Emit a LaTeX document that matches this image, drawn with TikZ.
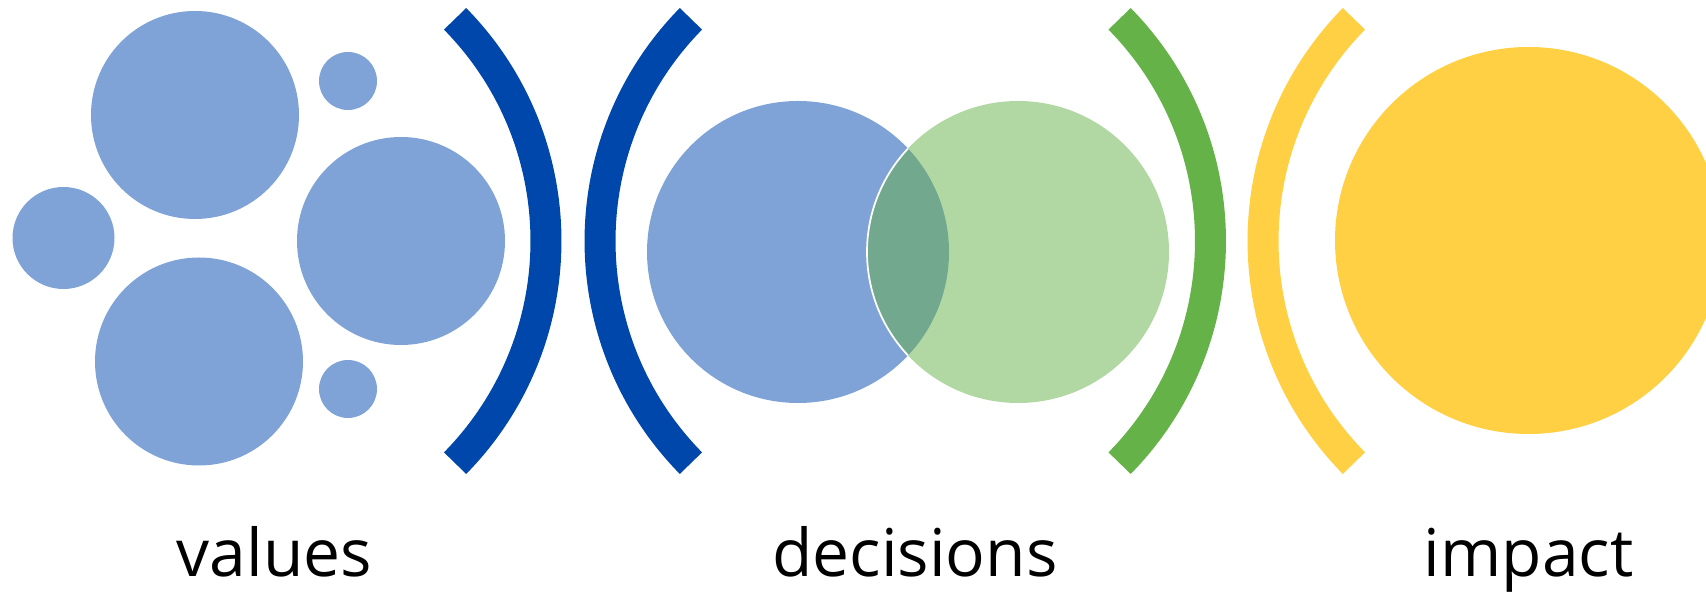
\documentclass[tikz,border=0pt]{standalone}
\usepackage{fontspec}
\setmainfont{Open Sans}
\usetikzlibrary{calc}
\definecolor{valueblue}{RGB}{127,163,214}
\definecolor{bracketblue}{RGB}{0,71,171}
\definecolor{bracketgreen}{RGB}{101,178,72}
\definecolor{decisiongreen}{RGB}{177,216,163}
\definecolor{overlapgreen}{RGB}{114,169,142}
\definecolor{impactyellow}{RGB}{255,208,68}
\def\bowarc[#1](#2)(#3){\draw[#1] ($(#2)+({#3-44.5}:317)$) arc ({#3-44.5}:{#3+44.5}:317);}
\tikzset{stagename/.style={anchor=base, inner sep=0pt, font=\fontsize{37.5}{44}\selectfont}}

\begin{document}
\begin{tikzpicture}[x=0.02cm, y=0.02cm]
		%%%%% START %%%%%
		\useasboundingbox (0,0) rectangle (1706,594);
		\clip (0,0) rectangle (1706,594);
		
		% values
		\fill[valueblue] (195,479) circle (104);
		\fill[valueblue] (348,513) circle (29);
		\fill[valueblue] (63.5,356) circle (51);
		\fill[valueblue] (401,353) circle (104);
		\fill[valueblue] (199,232.5) circle (104);
		\fill[valueblue] (348,205) circle (29);
		
		% brackets
		\bowarc[line width=0.62cm, color=bracketblue](229,353)(0);
		\bowarc[line width=0.62cm, color=bracketblue](917,353)(180);
		\bowarc[line width=0.62cm, color=bracketgreen](893.5,353)(0);
		\bowarc[line width=0.62cm, color=impactyellow](1580,353)(180);
		
		% decisions
		\fill[valueblue] (798,342) circle (151);
		\fill[decisiongreen] (1018,342) circle (151);
		\begin{scope}
			\clip (798,342) circle (151);
			\fill[overlapgreen] (1018,342) circle (151);
			\draw[white, line width=0.035cm] (1018,342) circle (151);
		\end{scope}
		
		% impact
		\fill[impactyellow] (1528.5,353.5) circle (193.5);
		
		\node[stagename] (values) at (274.5,17) {values};
		\node[stagename] (decisions) at (915,17) {decisions};
		\node[stagename] (impact) at (1528.5,17) {impact};
		
		%%%%% END %%%%%
\end{tikzpicture}
\end{document}
